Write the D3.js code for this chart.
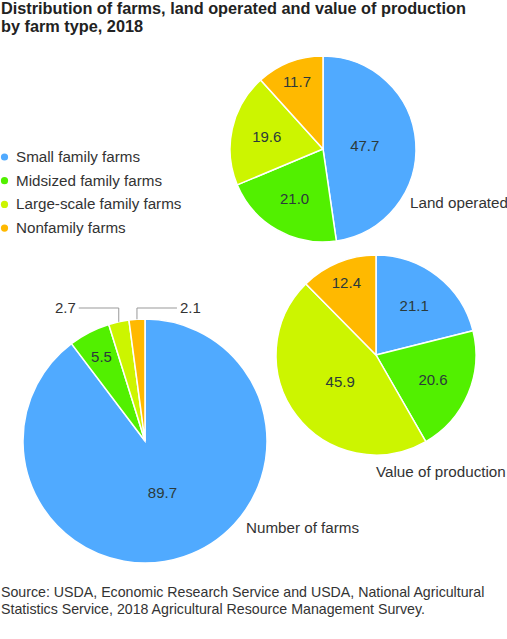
<!DOCTYPE html>
<html>
<head>
<meta charset="utf-8">
<script src="https://cdn.jsdelivr.net/npm/d3@7"></script>
<style>
	body{margin:0;background:#fff;}
	svg{display:block;font-family:'Liberation Sans',Arial,Helvetica,sans-serif;}
</style>
</head>
<body>
<svg id="chart"></svg>
<script>
// farm types, shares in percent
const categories = ['Small family farms','Midsized family farms','Large-scale family farms','Nonfamily farms']
const farmsShare = [89.7, 5.5, 2.7, 2.1]
const landShare = [47.7, 21.0, 19.6, 11.7]
const valueShare = [21.1, 20.6, 45.9, 12.4]
const pieTitles = ['Number of farms','Land operated','Value of production']
const titleLines = ['Distribution of farms, land operated and value of production','by farm type, 2018']
const sourceLines = ['Source: USDA, Economic Research Service and USDA, National Agricultural','Statistics Service, 2018 Agricultural Resource Management Survey.']

const colors = ['#50aaff','#52f000','#ccf500','#ffb900']

const outer_width = 507
const outer_height = 639

const svg = d3.select('#chart')
	.attr('width',outer_width)
	.attr('height',outer_height)

const color = d3.scaleOrdinal().domain(categories).range(colors)

// title
svg.selectAll('.title')
	.data(titleLines)
	.enter()
	.append('text')
	.classed('title',true)
	.text(d => d)
	.attr('x',1)
	.attr('y',(d,i) => 14 + i*18)
	.attr('font-size','16.3px')
	.attr('font-weight','bold')
	.attr('fill','#222')

// legend
const legend = svg.append('g').attr('transform','translate(4.5,157)')
const legendRow = legend.selectAll('.lg')
	.data(categories)
	.enter()
	.append('g')
	.attr('transform',(d,i) => `translate(0,${i*23.7})`)
legendRow.append('circle')
	.attr('r',3.6)
	.attr('fill',d => color(d))
legendRow.append('text')
	.text(d => d)
	.attr('x',11.5)
	.attr('y',5)
	.attr('font-size','15.2px')
	.attr('fill','#333')

// pies
const pies = [
	{values: farmsShare, title: pieTitles[0], cx:145, cy:441, r:122, tx:246, ty:533},
	{values: landShare, title: pieTitles[1], cx:323, cy:149, r:93, tx:410, ty:208},
	{values: valueShare, title: pieTitles[2], cx:376, cy:355, r:100, tx:376, ty:477}
]

const pie = d3.pie().sort(null).value(d => d.value)

const draw_pie = (p)=>{
	const data = categories.map((c,i) => ({name:c, value:p.values[i]}))
	const arcs = pie(data)
	const arc = d3.arc().innerRadius(0).outerRadius(p.r)

	const g = svg.append('g').attr('transform',`translate(${p.cx},${p.cy})`)

	g.selectAll('path')
		.data(arcs)
		.enter()
		.append('path')
		.attr('d',arc)
		.attr('fill',d => color(d.data.name))
		.attr('stroke','#fff')
		.attr('stroke-width',1.5)

	const mid = d => (d.startAngle + d.endAngle) / 2
	const inside = arcs.filter(d => d.data.value >= 4)
	const outside = arcs.filter(d => d.data.value < 4)

	// label radius depends on slice size
	const frac = v => v > 40 ? 0.45 : v > 15 ? 0.62 : 0.78

	g.selectAll('.inlabel')
		.data(inside)
		.enter()
		.append('text')
		.classed('inlabel',true)
		.text(d => d.data.value.toFixed(1))
		.attr('x',d => Math.sin(mid(d)) * p.r * frac(d.data.value))
		.attr('y',d => -Math.cos(mid(d)) * p.r * frac(d.data.value))
		.attr('dy','0.35em')
		.attr('text-anchor','middle')
		.attr('font-size','15px')
		.attr('fill','#2b3a3a')

	// small slices: elbow connector above the pie
	const elbowY = -p.r - 11
	outside.forEach((d,i)=>{
		const ex = Math.sin(mid(d)) * p.r
		const ey = -Math.cos(mid(d)) * p.r
		const dir = i % 2 == 0 ? -1 : 1
		const hx = ex + dir*40
		g.append('path')
			.attr('d',`M${ex},${ey}L${ex},${elbowY}L${hx},${elbowY}`)
			.attr('fill','none')
			.attr('stroke','#999')
			.attr('stroke-width',1)
		g.append('text')
			.text(d.data.value.toFixed(1))
			.attr('x',hx + dir*3)
			.attr('y',elbowY)
			.attr('dy','0.35em')
			.attr('text-anchor',dir < 0 ? 'end' : 'start')
			.attr('font-size','15px')
			.attr('fill','#333')
	})

	svg.append('text')
		.text(p.title)
		.attr('x',p.tx)
		.attr('y',p.ty)
		.attr('font-size','15.2px')
		.attr('fill','#333')
}

pies.forEach(draw_pie)

// source
svg.selectAll('.source')
	.data(sourceLines)
	.enter()
	.append('text')
	.classed('source',true)
	.text(d => d)
	.attr('x',1)
	.attr('y',(d,i) => 597 + i*16.5)
	.attr('font-size','14.2px')
	.attr('fill','#333')
</script>
</body>
</html>
